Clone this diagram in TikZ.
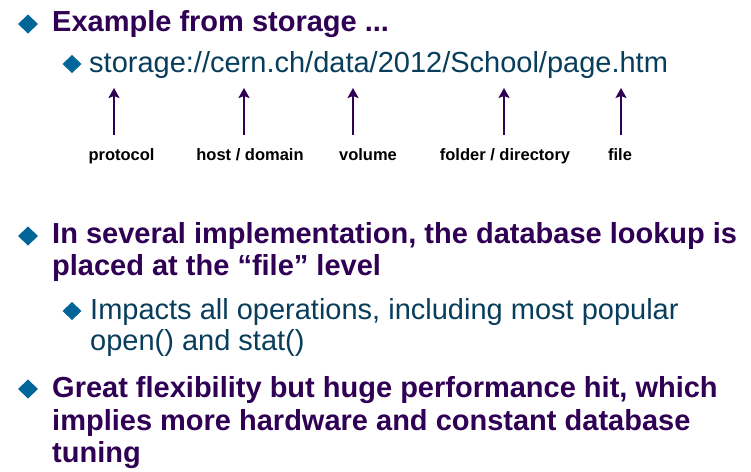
\documentclass[tikz,border=0pt]{standalone}
\usepackage{fontspec}
\setmainfont{Liberation Sans}
\usetikzlibrary{shapes.geometric,arrows.meta}
\definecolor{titlepurple}{RGB}{48,0,84}
\definecolor{subteal}{RGB}{8,62,92}
\definecolor{bulletblue}{RGB}{0,102,153}
\definecolor{arrowpurple}{RGB}{48,0,84}
\tikzset{
  bul/.style={diamond, fill=bulletblue, inner sep=0pt, outer sep=0pt, minimum width=20pt, minimum height=19pt},
  sbul/.style={diamond, fill=bulletblue, inner sep=0pt, outer sep=0pt, minimum width=19pt, minimum height=18pt},
  mainline/.style={anchor=base west, inner sep=0pt, font=\fontsize{29}{32}\selectfont\bfseries, text=titlepurple},
  subline/.style={anchor=base west, inner sep=0pt, font=\fontsize{29}{32}\selectfont, text=subteal},
  lab/.style={anchor=base, inner sep=0pt, font=\fontsize{16.5}{18}\selectfont\bfseries, text=black},
  uparrow/.style={draw=arrowpurple, line width=2pt, -{Stealth[length=10pt,width=11pt,inset=2pt]}}
}
\begin{document}
\begin{tikzpicture}[x=1pt,y=-1pt]
\useasboundingbox (0,0) rectangle (751,471);
\fill[white] (0,0) rectangle (751,471);
% bullet 1
\node[bul] (d1) at (28,24) {};
\node[mainline] (t1) at (52,31) {Example from storage ...};
\node[sbul] (d1s) at (72,64) {};
\node[subline] (url) at (89,72) {storage://cern.ch/data/2012/School/page.htm};
% arrows
\coordinate (a1t) at (114,88);  \coordinate (a1b) at (114,135);
\coordinate (a2t) at (244,88);  \coordinate (a2b) at (244,135);
\coordinate (a3t) at (353,88);  \coordinate (a3b) at (353,135);
\coordinate (a4t) at (504,88);  \coordinate (a4b) at (504,135);
\coordinate (a5t) at (621,88);  \coordinate (a5b) at (621,135);
\draw[uparrow] (a1b) -- (a1t);
\draw[uparrow] (a2b) -- (a2t);
\draw[uparrow] (a3b) -- (a3t);
\draw[uparrow] (a4b) -- (a4t);
\draw[uparrow] (a5b) -- (a5t);
% labels
\node[lab] (l1) at (121.5,160) {protocol};
\node[lab] (l2) at (250,160) {host / domain};
\node[lab] (l3) at (368,160) {volume};
\node[lab] (l4) at (505,160) {folder / directory};
\node[lab] (l5) at (620,160) {file};
% bullet 2
\node[bul] (d2) at (28,236) {};
\node[mainline] (b2a) at (52,243) {In several implementation, the database lookup is};
\node[mainline] (b2b) at (52,275) {placed at the “file” level};
\node[sbul] (d2s) at (72,311) {};
\node[subline] (s2a) at (90,319) {Impacts all operations, including most popular};
\node[subline] (s2b) at (90,350) {open() and stat()};
% bullet 3
\node[bul] (d3) at (28,389) {};
\node[mainline] (b3a) at (52,397) {Great flexibility but huge performance hit, which};
\node[mainline] (b3b) at (52,430) {implies more hardware and constant database};
\node[mainline] (b3c) at (52,462) {tuning};
\end{tikzpicture}
\end{document}
